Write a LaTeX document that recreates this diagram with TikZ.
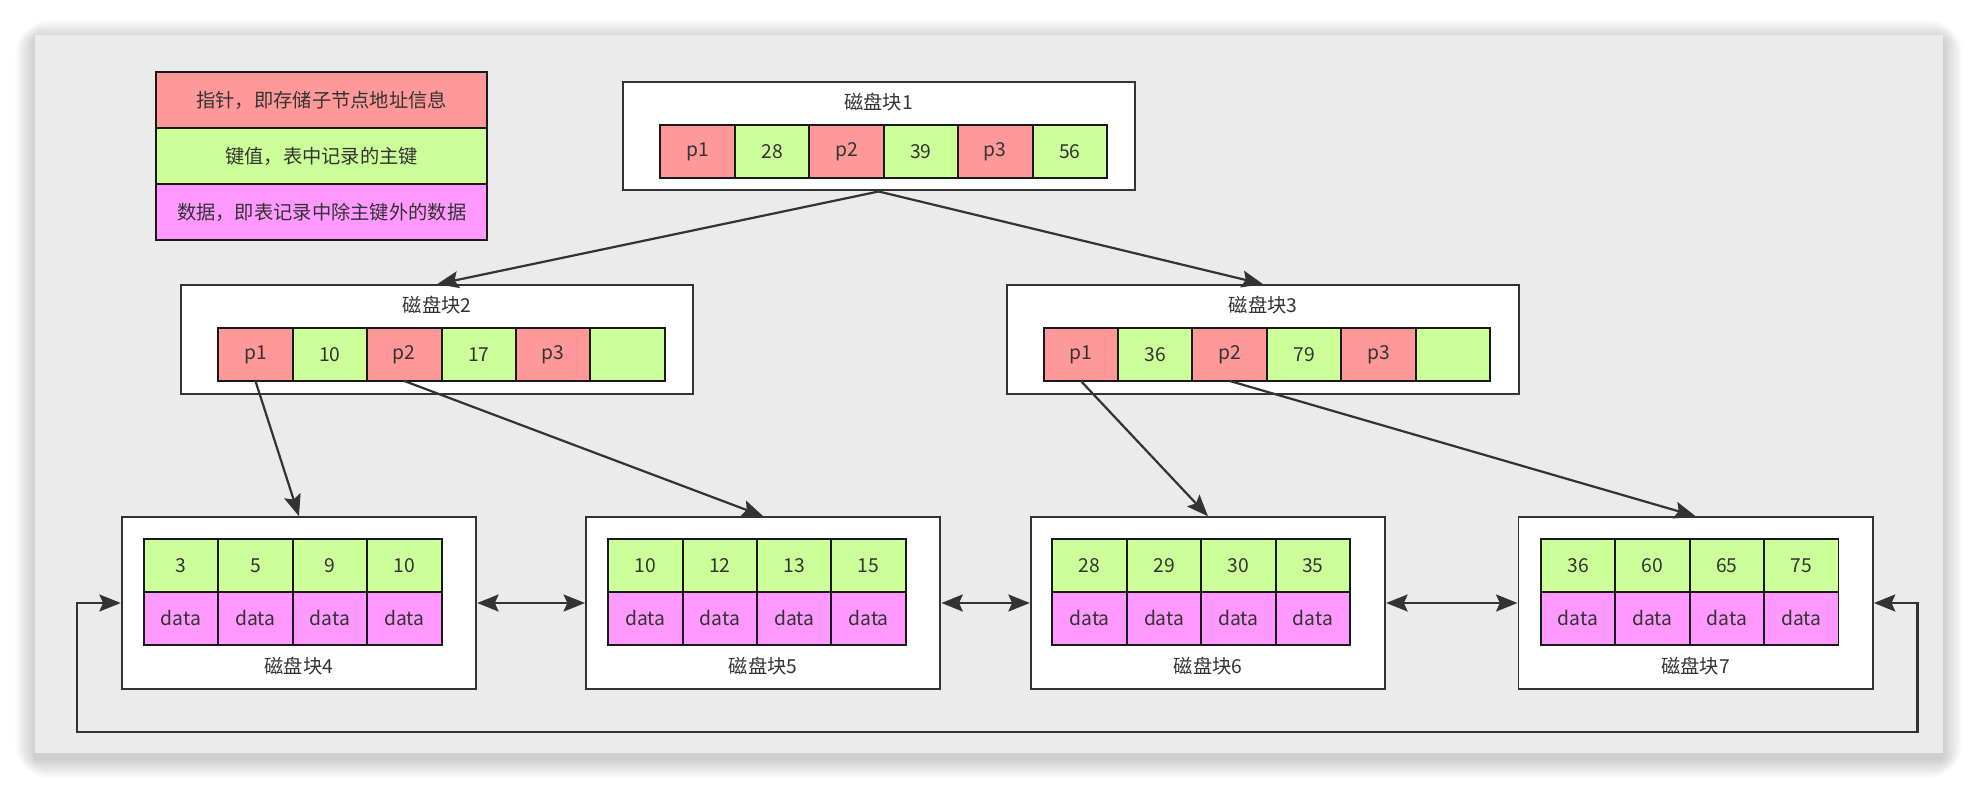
\documentclass[tikz,border=0pt]{standalone}
\usepackage{fontspec}
\setmainfont{Noto Sans CJK SC}
\usepackage{tikz}
\usetikzlibrary{arrows.meta,positioning}

\definecolor{ptrred}{HTML}{FF9999}
\definecolor{keygreen}{HTML}{CCFF99}
\definecolor{datapink}{HTML}{FF99FF}
\definecolor{panelgray}{HTML}{EBEBEB}
\definecolor{ink}{HTML}{333333}

\tikzset{
    txt/.style={font=\fontsize{8.7}{10}\selectfont, text=ink},
    cell/.style={txt, draw=black!90, line width=0.9pt, minimum width=1.18cm,
        minimum height=0.84cm, inner sep=0pt, outer sep=0pt},
    ptr/.style={cell, fill=ptrred},
    key/.style={cell, fill=keygreen},
    dat/.style={cell, fill=datapink},
    legend/.style={cell, minimum width=5.24cm, minimum height=0.886cm},
    inner/.style={draw=ink, fill=white, line width=0.9pt, minimum width=8.12cm,
        minimum height=1.72cm},
    leaf/.style={draw=ink, fill=white, line width=0.9pt, minimum width=5.62cm,
        minimum height=2.72cm},
    arr/.style={draw=ink, line width=1pt, -{Stealth[length=0.34cm,width=0.27cm,inset=0.06cm]}},
    dbl/.style={draw=ink, line width=1pt,
        {Stealth[length=0.34cm,width=0.27cm,inset=0.06cm]}-{Stealth[length=0.34cm,width=0.27cm,inset=0.06cm]}}
}

\begin{document}
\begin{tikzpicture}[x=0.02cm,y=-0.02cm]
        \useasboundingbox (0,0) rectangle (1568,626);
        \fill[white] (0,0) rectangle (1568,626);
        % soft shadow round the panel
        \foreach \s in {1,...,16}
            \fill[black, opacity=0.01, rounded corners=\s pt]
                (28-\s,28-\s+4) rectangle (1540+\s,597+\s+4);
        \fill[panelgray] (28,28) rectangle (1540,597);

        % legend
        \node[legend, fill=ptrred] (lgptr) at (255,79.5) {指针，即存储子节点地址信息};
        \node[legend, fill=keygreen, below=0pt of lgptr] (lgkey) {键值，表中记录的主键};
        \node[legend, fill=datapink, below=0pt of lgkey] (lgdat) {数据，即表记录中除主键外的数据};

        % root
        \node[inner] (blk1) at (696.5,108) {};
        \node[txt] (t1) at (696.5,81) {磁盘块1};
        \node[ptr] (b1c1) at (553,120) {p1};
        \node[key] (b1c2) at (612,120) {28};
        \node[ptr] (b1c3) at (671,120) {p2};
        \node[key] (b1c4) at (730,120) {39};
        \node[ptr] (b1c5) at (789,120) {p3};
        \node[key] (b1c6) at (848,120) {56};

        % second level
        \node[inner] (blk2) at (346.6,269) {};
        \node[txt] (t2) at (346.6,242) {磁盘块2};
        \node[ptr] (b2c1) at (202.5,281) {p1};
        \node[key] (b2c2) at (261.5,281) {10};
        \node[ptr] (b2c3) at (320.5,281) {p2};
        \node[key] (b2c4) at (379.5,281) {17};
        \node[ptr] (b2c5) at (438.5,281) {p3};
        \node[key] (b2c6) at (497.5,281) {};

        \node[inner] (blk3) at (1001.2,269) {};
        \node[txt] (t3) at (1001.2,242) {磁盘块3};
        \node[ptr] (b3c1) at (856.8,281) {p1};
        \node[key] (b3c2) at (915.8,281) {36};
        \node[ptr] (b3c3) at (974.8,281) {p2};
        \node[key] (b3c4) at (1033.8,281) {79};
        \node[ptr] (b3c5) at (1092.8,281) {p3};
        \node[key] (b3c6) at (1151.8,281) {};

        % leaves
        \node[leaf] (blk4) at (237,478) {};
        \node[txt] (t4) at (237,528) {磁盘块4};
        \node[key] (b4k1) at (143.5,448.5) {3};
        \node[key] (b4k2) at (202.5,448.5) {5};
        \node[key] (b4k3) at (261.5,448.5) {9};
        \node[key] (b4k4) at (320.5,448.5) {10};
        \node[dat] (b4d1) at (143.5,490) {data};
        \node[dat] (b4d2) at (202.5,490) {data};
        \node[dat] (b4d3) at (261.5,490) {data};
        \node[dat] (b4d4) at (320.5,490) {data};

        \node[leaf] (blk5) at (605,478) {};
        \node[txt] (t5) at (605,528) {磁盘块5};
        \node[key] (b5k1) at (511.6,448.5) {10};
        \node[key] (b5k2) at (570.6,448.5) {12};
        \node[key] (b5k3) at (629.6,448.5) {13};
        \node[key] (b5k4) at (688.6,448.5) {15};
        \node[dat] (b5d1) at (511.6,490) {data};
        \node[dat] (b5d2) at (570.6,490) {data};
        \node[dat] (b5d3) at (629.6,490) {data};
        \node[dat] (b5d4) at (688.6,490) {data};

        \node[leaf] (blk6) at (957.6,478) {};
        \node[txt] (t6) at (957.6,528) {磁盘块6};
        \node[key] (b6k1) at (863.8,448.5) {28};
        \node[key] (b6k2) at (922.8,448.5) {29};
        \node[key] (b6k3) at (981.8,448.5) {30};
        \node[key] (b6k4) at (1040.8,448.5) {35};
        \node[dat] (b6d1) at (863.8,490) {data};
        \node[dat] (b6d2) at (922.8,490) {data};
        \node[dat] (b6d3) at (981.8,490) {data};
        \node[dat] (b6d4) at (1040.8,490) {data};

        \node[leaf] (blk7) at (1344.2,478) {};
        \node[txt] (t7) at (1344.2,528) {磁盘块7};
        \node[key] (b7k1) at (1250.9,448.5) {36};
        \node[key] (b7k2) at (1309.9,448.5) {60};
        \node[key] (b7k3) at (1368.9,448.5) {65};
        \node[key] (b7k4) at (1427.9,448.5) {75};
        \node[dat] (b7d1) at (1250.9,490) {data};
        \node[dat] (b7d2) at (1309.9,490) {data};
        \node[dat] (b7d3) at (1368.9,490) {data};
        \node[dat] (b7d4) at (1427.9,490) {data};

        % pointers
        \draw[arr] (blk1.south) -- (blk2.north);
        \draw[arr] (blk1.south) -- (blk3.north);
        \draw[arr] (b2c1.south) -- (blk4.north);
        \draw[arr] (b2c3.south) -- (blk5.north);
        \draw[arr] (b3c1.south) -- (blk6.north);
        \draw[arr] (b3c3.south) -- (blk7.north);

        % leaf chain
        \draw[dbl] (blk4.east) -- (blk5.west);
        \draw[dbl] (blk5.east) -- (blk6.west);
        \draw[dbl] (blk6.east) -- (blk7.west);
        \coordinate (lpl) at (61.3,580);
        \coordinate (lpr) at (1520,580);
        \draw[dbl] (blk4.west) -| (lpl) -- (lpr) |- (blk7.east);
    \end{tikzpicture}
\end{document}
